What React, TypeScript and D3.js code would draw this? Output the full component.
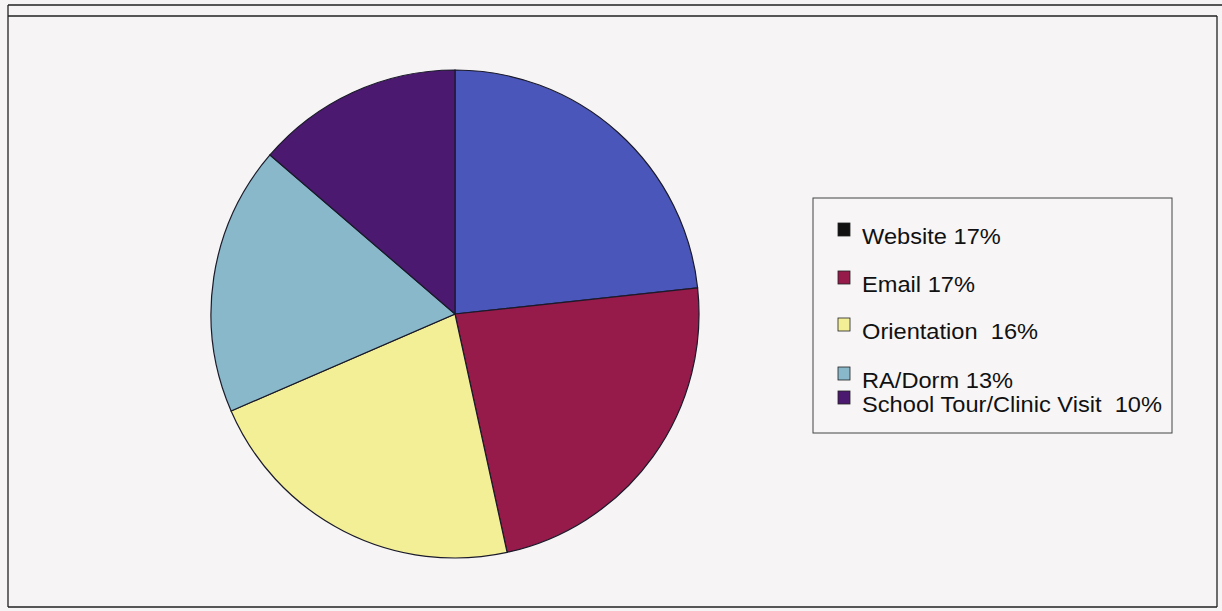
import React from "react";
import * as d3 from "d3";

const categories = ["Website", "Email", "Orientation", "RA/Dorm", "School Tour/Clinic Visit"];
const values = [17, 17, 16, 13, 10];
const legendLabels = ["Website 17%", "Email 17%", "Orientation  16%", "RA/Dorm 13%", "School Tour/Clinic Visit  10%"];
const sliceColors = ["#4a56b9", "#961a4a", "#f3ef96", "#88b8c9", "#4b196f"];
const swatchColors = ["#111111", "#961a4a", "#f3ef96", "#88b8c9", "#4b196f"];

const W = 1222;
const H = 611;

export default function App() {
  const cx = 455;
  const cy = 314;
  const r = 244;
  const pie = d3.pie<number>().sort(null).value((d) => d);
  const arcs = pie(values);
  const arc = d3.arc<d3.PieArcDatum<number>>().innerRadius(0).outerRadius(r);

  const legendX = 813;
  const legendY = 198;
  const legendW = 359;
  const legendH = 235;
  const baselines = [244, 292, 339, 388, 412];

  return (
    <svg
      width={W}
      height={H}
      style={{ position: "absolute", left: 0, top: 0, background: "#f6f4f4" }}
    >
      <rect x={0} y={0} width={W} height={H} fill="#f6f4f4" />
      <g stroke="#222" strokeWidth={1.3} fill="none">
        <line x1={8} y1={5} x2={W} y2={5} />
        <line x1={8} y1={16} x2={1217} y2={16} />
        <line x1={8} y1={5} x2={8} y2={607} />
        <line x1={1217} y1={16} x2={1217} y2={607} />
        <line x1={8} y1={607} x2={1217} y2={607} />
      </g>
      <g transform={`translate(${cx},${cy})`}>
        {arcs.map((a, i) => (
          <path
            key={categories[i]}
            d={arc(a) || ""}
            fill={sliceColors[i]}
            stroke="#1a1a2a"
            strokeWidth={1.2}
          />
        ))}
      </g>
      <rect
        x={legendX}
        y={legendY}
        width={legendW}
        height={legendH}
        fill="#f7f5f5"
        stroke="#444"
        strokeWidth={1}
      />
      {legendLabels.map((lab, i) => (
        <g key={lab}>
          <rect
            x={838}
            y={baselines[i] - 21}
            width={12}
            height={13}
            fill={swatchColors[i]}
            stroke="#222"
            strokeWidth={0.8}
          />
          <text
            transform={`translate(862,${baselines[i]}) scale(1.075,1)`}
            x={0}
            y={0}
            fontFamily="Liberation Sans, Arial, sans-serif"
            fontSize={22}
            fill="#111"
            style={{ whiteSpace: "pre" }}
            xmlSpace="preserve"
          >
            {lab}
          </text>
        </g>
      ))}
    </svg>
  );
}
